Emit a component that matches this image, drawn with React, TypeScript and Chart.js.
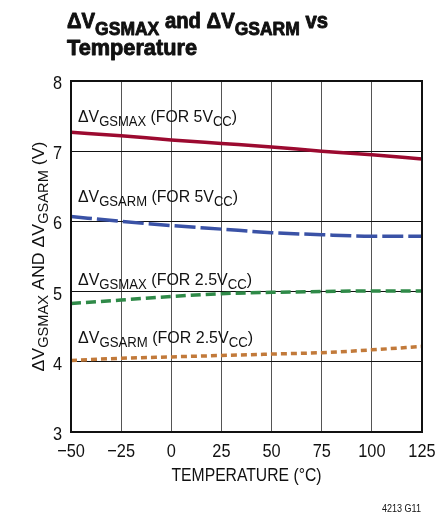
import React, { useEffect, useRef } from 'react';
import { Chart, registerables } from 'chart.js';

Chart.register(...registerables);

// ---- data ----
const temperatures = [-50, -25, 0, 25, 50, 75, 100, 125];
const gsmax5V = [7.27, 7.22, 7.16, 7.11, 7.06, 7.0, 6.95, 6.89];
const gsarm5V = [6.07, 6.0, 5.94, 5.89, 5.84, 5.81, 5.79, 5.79];
const gsmax25V = [4.83, 4.88, 4.93, 4.97, 4.99, 5.0, 5.01, 5.01];
const gsarm25V = [4.02, 4.05, 4.07, 4.09, 4.11, 4.13, 4.17, 4.22];
const xTickValues = [-50, -25, 0, 25, 50, 75, 100, 125];
const yTickValues = [3, 4, 5, 6, 7, 8];

const FONT = '"Liberation Sans", Arial, sans-serif';

type Seg = { t: string; sub?: boolean };

type RichOpts = {
  size: number;
  subSize?: number;
  subShift?: number;
  bold?: boolean;
  align?: 'left' | 'center' | 'right';
  sx?: number;
  fit?: number;
  stroke?: number;
};

function fontFor(size: number, bold?: boolean) {
  return `${bold ? 'bold ' : ''}${size}px ${FONT}`;
}

function drawRich(ctx: CanvasRenderingContext2D, segs: Seg[], x: number, y: number, o: RichOpts) {
  const subSize = o.subSize ?? o.size * 0.75;
  const subShift = o.subShift ?? 4;
  let w = 0;
  for (const s of segs) {
    ctx.font = fontFor(s.sub ? subSize : o.size, o.bold);
    w += ctx.measureText(s.t).width;
  }
  const sx = o.fit ? o.fit / w : o.sx ?? 1;
  const total = w * sx;
  const align = o.align ?? 'left';
  const start = align === 'center' ? x - total / 2 : align === 'right' ? x - total : x;
  ctx.save();
  ctx.translate(start, y);
  ctx.scale(sx, 1);
  ctx.textAlign = 'left';
  ctx.textBaseline = 'alphabetic';
  if (o.stroke) {
    ctx.strokeStyle = ctx.fillStyle as string;
    ctx.lineWidth = o.stroke;
    ctx.lineJoin = 'round';
  }
  let cx = 0;
  for (const s of segs) {
    ctx.font = fontFor(s.sub ? subSize : o.size, o.bold);
    ctx.fillText(s.t, cx, s.sub ? subShift : 0);
    if (o.stroke) ctx.strokeText(s.t, cx, s.sub ? subShift : 0);
    cx += ctx.measureText(s.t).width;
  }
  ctx.restore();
}

const annotations: { segs: Seg[]; x: number; y: number; w: number }[] = [
  { segs: [{ t: 'ΔV' }, { t: 'GSMAX', sub: true }, { t: ' (FOR 5V' }, { t: 'CC', sub: true }, { t: ')' }], x: -46.5, y: 7.42, w: 159 },
  { segs: [{ t: 'ΔV' }, { t: 'GSARM', sub: true }, { t: ' (FOR 5V' }, { t: 'CC', sub: true }, { t: ')' }], x: -46.5, y: 6.28, w: 160 },
  { segs: [{ t: 'ΔV' }, { t: 'GSMAX', sub: true }, { t: ' (FOR 2.5V' }, { t: 'CC', sub: true }, { t: ')' }], x: -46.5, y: 5.09, w: 174 },
  { segs: [{ t: 'ΔV' }, { t: 'GSARM', sub: true }, { t: ' (FOR 2.5V' }, { t: 'CC', sub: true }, { t: ')' }], x: -46.5, y: 4.27, w: 175 },
];

const fmtTick = (v: number) => String(v).replace('-', '\u2212');

const textPlugin = {
  id: 'textPlugin',
  afterDraw(chart: any) {
    const ctx: CanvasRenderingContext2D = chart.ctx;
    const { left, right, top, bottom } = chart.chartArea;
    const xs = chart.scales.x;
    const ys = chart.scales.y;
    ctx.save();
    ctx.fillStyle = '#111';

    // frame
    ctx.strokeStyle = '#111';
    ctx.lineWidth = 2;
    ctx.strokeRect(left, top, right - left, bottom - top);

    // tick labels
    for (const v of xTickValues) {
      drawRich(ctx, [{ t: fmtTick(v) }], xs.getPixelForValue(v), 457, { size: 19, sx: 0.86, align: 'center' });
    }
    for (const v of yTickValues) {
      drawRich(ctx, [{ t: fmtTick(v) }], left - 9, ys.getPixelForValue(v) + 8, { size: 19, sx: 0.86, align: 'right' });
    }

    // annotations
    for (const a of annotations) {
      drawRich(ctx, a.segs, xs.getPixelForValue(a.x), ys.getPixelForValue(a.y), {
        size: 17,
        subSize: 14,
        subShift: 4,
        fit: a.w,
      });
    }

    // title
    drawRich(
      ctx,
      [{ t: 'ΔV' }, { t: 'GSMAX', sub: true }, { t: ' and ΔV' }, { t: 'GSARM', sub: true }, { t: ' vs' }],
      67, 28, { size: 22, subSize: 19, subShift: 7, bold: true, fit: 261, stroke: 0.9 }
    );
    drawRich(ctx, [{ t: 'Temperature' }], 67, 55, { size: 22, bold: true, fit: 130, stroke: 0.9 });

    // x axis title
    drawRich(ctx, [{ t: 'TEMPERATURE (°C)' }], (left + right) / 2, 481, { size: 18, fit: 150, align: 'center' });

    // y axis title (rotated)
    ctx.save();
    ctx.translate(44, (top + bottom) / 2);
    ctx.rotate(-Math.PI / 2);
    drawRich(
      ctx,
      [{ t: 'ΔV' }, { t: 'GSMAX', sub: true }, { t: ' AND ΔV' }, { t: 'GSARM', sub: true }, { t: ' (V)' }],
      0, 0, { size: 17, subSize: 14, subShift: 4, fit: 230, align: 'center' }
    );
    ctx.restore();

    // figure id
    drawRich(ctx, [{ t: '4213 G11' }], 421, 512, { size: 10, fit: 39, align: 'right' });
    ctx.restore();
  },
};

export default function App() {
  const ref = useRef<HTMLCanvasElement | null>(null);

  useEffect(() => {
    if (!ref.current) return;
    const mk = (vals: number[]) => temperatures.map((t, i) => ({ x: t, y: vals[i] }));
    const common = { pointRadius: 0, borderWidth: 3.5, fill: false, cubicInterpolationMode: 'monotone' as const };
    const chart = new Chart(ref.current, {
      type: 'line',
      data: {
        datasets: [
          { ...common, label: 'ΔVGSMAX (FOR 5VCC)', data: mk(gsmax5V), borderColor: '#9c0a30' },
          { ...common, label: 'ΔVGSARM (FOR 5VCC)', data: mk(gsarm5V), borderColor: '#3a52a6', borderDash: [21, 5] },
          { ...common, label: 'ΔVGSMAX (FOR 2.5VCC)', data: mk(gsmax25V), borderColor: '#2f8a48', borderDash: [10, 5] },
          { ...common, label: 'ΔVGSARM (FOR 2.5VCC)', data: mk(gsarm25V), borderColor: '#c27a3a', borderDash: [6, 4] },
        ],
      },
      options: {
        responsive: false,
        animation: false,
        devicePixelRatio: 1,
        layout: { padding: { top: 81, left: 0, right: 16, bottom: 0 } },
        plugins: { legend: { display: false }, tooltip: { enabled: false }, title: { display: false } },
        scales: {
          x: {
            type: 'linear',
            min: -50,
            max: 125,
            afterBuildTicks: (s: any) => {
              s.ticks = xTickValues.map((v) => ({ value: v }));
            },
            afterFit: (s: any) => {
              s.height = 85;
              s.paddingLeft = 0;
              s.paddingRight = 0;
            },
            grid: { color: '#555', lineWidth: 1, drawTicks: false },
            border: { display: false },
            ticks: { display: false },
          },
          y: {
            type: 'linear',
            min: 3,
            max: 8,
            afterBuildTicks: (s: any) => {
              s.ticks = yTickValues.map((v) => ({ value: v }));
            },
            afterFit: (s: any) => {
              s.width = 71;
              s.paddingTop = 0;
              s.paddingBottom = 0;
            },
            grid: { color: '#111', lineWidth: 1, drawTicks: false },
            border: { display: false },
            ticks: { display: false },
          },
        },
      },
      plugins: [textPlugin],
    });
    return () => chart.destroy();
  }, []);

  return (
    <div style={{ position: 'absolute', left: 0, top: 0, width: 438, height: 517, background: '#fff' }}>
      <canvas ref={ref} width={438} height={517} style={{ display: 'block' }} />
    </div>
  );
}
